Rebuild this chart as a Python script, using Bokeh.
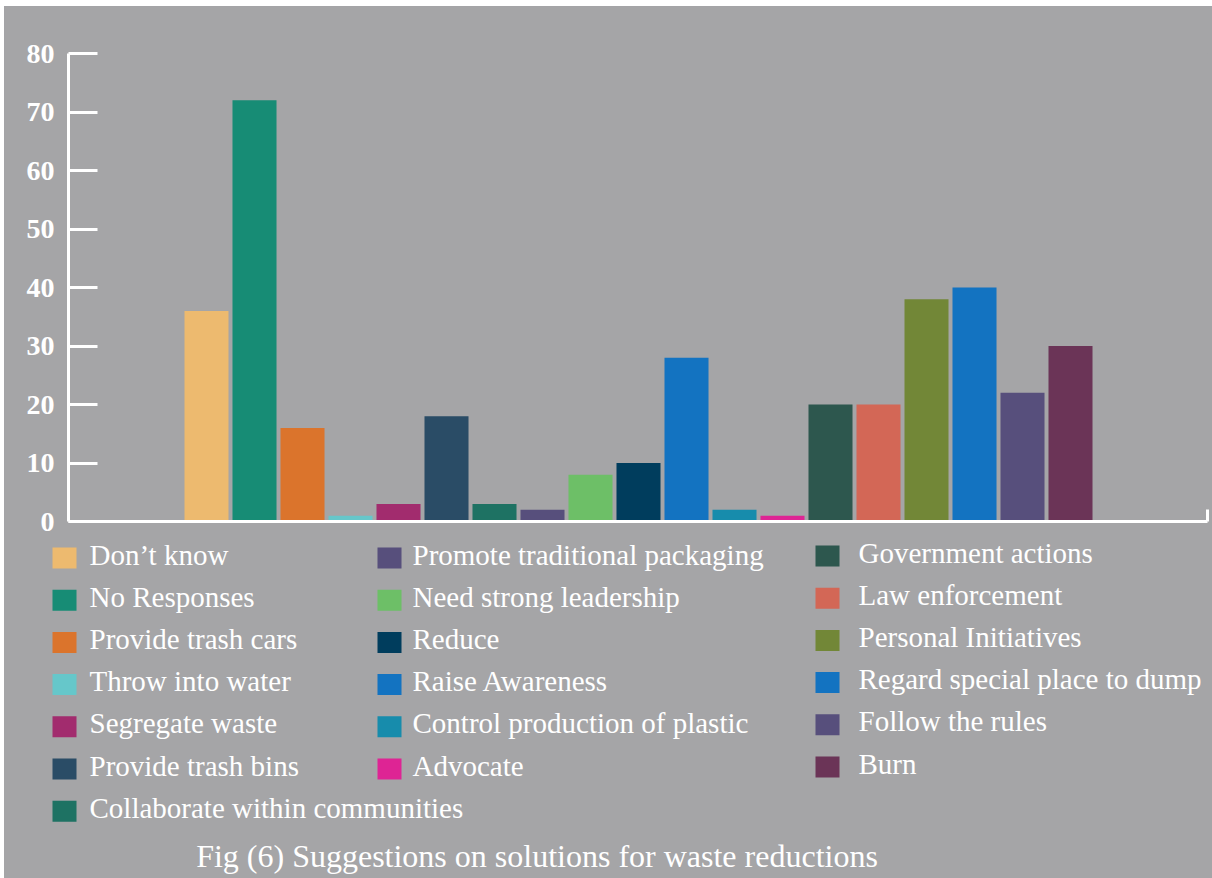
from bokeh.plotting import figure
from bokeh.layouts import column
from bokeh.models import ColumnDataSource, Range1d, FixedTicker
from bokeh.core.properties import value
from bokeh.embed import file_html
from bokeh.resources import INLINE

# Survey answers: suggestions on solutions for waste reduction
categories = [
    "Don\u2019t know", "No Responses", "Provide trash cars", "Throw into water",
    "Segregate waste", "Provide trash bins", "Collaborate within communities",
    "Promote traditional packaging", "Need strong leadership", "Reduce",
    "Raise Awareness", "Control production of plastic", "Advocate",
    "Government actions", "Law enforcement", "Personal Initiatives",
    "Regard special place to dump", "Follow the rules", "Burn",
]
counts = [36, 72, 16, 1, 3, 18, 3, 2, 8, 10, 28, 2, 1, 20, 20, 38, 40, 22, 30]
colors = [
    "#EDBA6F", "#178C75", "#DB742C", "#66C7CA", "#A22C6E", "#2A4C66", "#1E7263",
    "#574F7C", "#6DBF67", "#003D5D", "#1373C1", "#178CAC", "#DE2494",
    "#2D574E", "#D36756", "#728737", "#1373C1", "#574F7C", "#6B3457",
]
y_ticks = [0, 10, 20, 30, 40, 50, 60, 70, 80]
caption = "Fig (6) Suggestions on solutions for waste reductions"

# which categories go in each legend column
legend_columns = [(0, 7), (7, 13), (13, 19)]

BG = "#A5A5A7"
SERIF = "Liberation Serif"

# ---------------- bar chart ----------------
src = ColumnDataSource(dict(x=list(range(len(categories))), top=counts, color=colors))

p = figure(
    width=1208, height=530,
    x_range=Range1d(-2.875, 20.854), y_range=Range1d(0, 80),
    output_backend="svg", toolbar_location=None, tools="",
    min_border_left=64, min_border_right=5, min_border_top=47, min_border_bottom=15,
    frame_align=False, styles={"background-color": BG},
)
p.background_fill_color = BG
p.border_fill_color = BG
p.outline_line_color = None
p.grid.visible = False

p.vbar(x="x", top="top", bottom=0, width=0.917, color="color",
       line_color=None, source=src)

ya = p.yaxis[0]
ya.ticker = FixedTicker(ticks=y_ticks)
ya.axis_line_color = "white"
ya.axis_line_width = 3
ya.major_tick_line_color = "white"
ya.major_tick_line_width = 3
ya.major_tick_in = 29
ya.major_tick_out = 0
ya.minor_tick_line_color = None
ya.major_label_text_color = "white"
ya.major_label_text_font = SERIF
ya.major_label_text_font_style = "bold"
ya.major_label_text_font_size = "28px"
ya.major_label_standoff = 14

# x axis: plain baseline with a short upturned end tick
xa = p.xaxis[0]
xa.ticker = FixedTicker(ticks=[20.854])
xa.axis_line_color = "white"
xa.axis_line_width = 3
xa.major_tick_line_color = "white"
xa.major_tick_line_width = 3
xa.major_tick_in = 12
xa.major_tick_out = 0
xa.minor_tick_line_color = None
xa.major_label_overrides = {20.854: " "}
xa.major_label_text_font_size = "1px"
xa.major_label_standoff = 0

# ---------------- legend + caption panel (page-pixel coordinates) ----------------
leg = figure(
    width=1208, height=342,
    x_range=Range1d(4, 1212), y_range=Range1d(878, 536),
    output_backend="svg", toolbar_location=None, tools="",
    x_axis_type=None, y_axis_type=None,
    min_border=0, frame_align=False, styles={"background-color": BG},
)
leg.background_fill_color = BG
leg.border_fill_color = BG
leg.outline_line_color = None
leg.grid.visible = False

swatch_x = [52, 377, 815]
text_x = [89, 412, 858]
col_top = [547, 547, 545]
row_pitch = 42.2
sw_w, sw_h = 24, 21

sl, sr, st, sb, tx, ty, tl, sc = [], [], [], [], [], [], [], []
for c, (a, b) in enumerate(legend_columns):
    for r, i in enumerate(range(a, b)):
        top = col_top[c] + r * row_pitch
        sl.append(swatch_x[c]); sr.append(swatch_x[c] + sw_w)
        st.append(top); sb.append(top + sw_h)
        sc.append(colors[i])
        tx.append(text_x[c]); ty.append(top + 7)
        tl.append(categories[i])

leg.quad(left=sl, right=sr, top=st, bottom=sb, color=sc, line_color=None)
leg.text(x=tx, y=ty, text=tl, text_font=value(SERIF), text_font_size="29px",
         text_color="white", text_align="left", text_baseline="alphabetic")
leg.text(x=[536.5], y=[855], text=[caption], text_font=value(SERIF),
         text_font_size="32px", text_color="white", text_align="center",
         text_baseline="alphabetic")

layout = column(p, leg, spacing=0, margin=(6, 0, 0, 4),
                styles={"background-color": BG})

html = file_html(layout, INLINE)
with open("out.html", "w") as f:
    f.write(html)
